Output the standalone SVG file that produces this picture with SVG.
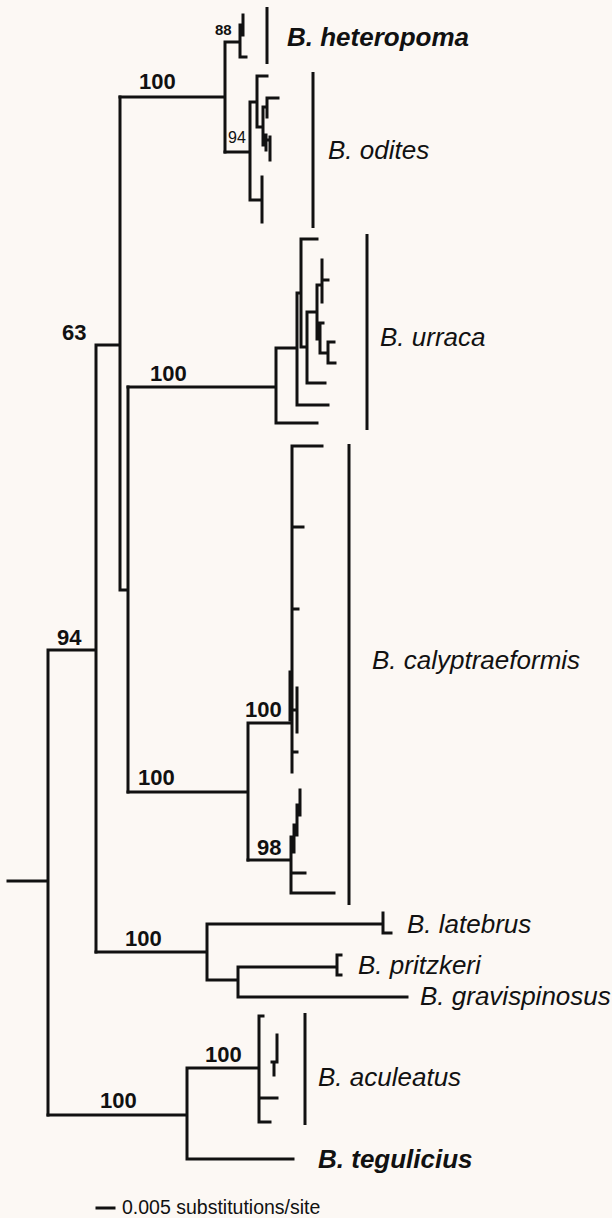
<svg xmlns="http://www.w3.org/2000/svg" width="612" height="1218" viewBox="0 0 612 1218">
<style>
.e{stroke:#111;stroke-width:3;fill:none;stroke-linecap:square}
.bar{stroke:#111;stroke-width:3;fill:none}
.sp{font-family:"Liberation Sans",Arial,sans-serif;font-style:italic;font-size:26px;fill:#111}
.spb{font-family:"Liberation Sans",Arial,sans-serif;font-style:italic;font-weight:bold;font-size:26px;fill:#111}
.bs{font-family:"Liberation Sans",Arial,sans-serif;font-weight:bold;font-size:22px;fill:#111}
.sm{font-family:"Liberation Sans",Arial,sans-serif;font-size:16px;fill:#111}
.sc{font-family:"Liberation Sans",Arial,sans-serif;font-size:19.5px;fill:#111}
</style>
<rect width="612" height="1218" fill="#fcf8f4"/>
<g id="connectors">
<path class="e" d="M8,881H48M48,650V1115M48,650H96M96,345V952M96,345H120M120,97V590M120,590H128M128,387V792"/>
<path class="e" d="M120,97H225M225,42V152M225,42H240M240,25V57M240,25H243M243,15V35M240,57H246"/>
<path class="e" d="M225,152H250M250,102V200M250,102H257M257,76V127M257,76H267M257,127H263M263,107V145M263,107H267M267,98V117M267,98H278M263,145H266M266,135V150M266,140H270M270,137V160M250,200H262M262,177V222"/>
<path class="e" d="M128,387H276M276,348V423M276,423H317M276,348H297M297,293V405M297,405H328M297,293H301M301,239V347M301,239H317M301,347H307M307,312V383M307,383H325M307,312H317M317,285V339M317,285H322M322,260V302M322,280H328M317,339H320M320,323V353M320,323H323M320,353H328M328,342V363M328,342H334M328,363H335"/>
<path class="e" d="M128,792H248M248,723V860M248,723H292M292,446V772M292,446H322M292,527H303M292,609H298M292,752H297M297,688V732M292,710H297"/>
<path class="e" d="M290,672V720M248,860H291M291,837V893M291,893H334M291,873H305M291,852H294M294,825V852M294,835H297M297,805V835M297,815H300M300,790V815"/>
<path class="e" d="M96,952H207M207,924V980M207,924H383M383,913V933M383,933H391M207,980H238M238,967V997M238,967H337M337,955V975M337,955H341M337,975H341M238,997H407"/>
<path class="e" d="M48,1115H187M187,1068V1159M187,1068H259M259,1016V1122M259,1016H263M259,1122H270M259,1098H277M277,1035V1062M272,1062H277M274,1062V1075M187,1159H293"/>
<path class="bar" d="M267,7V64M313,72V228M367,234V430M349,444V905M305,1013V1125"/>
<path class="e" d="M97,1208H114"/>
</g>
<g id="labels">
<text class="bs" x="139" y="89">100</text>
<text x="215" y="35" style="font-family:'Liberation Sans',Arial,sans-serif;font-weight:bold;font-size:15px;fill:#111">88</text>
<text class="sm" x="228" y="143">94</text>
<text class="bs" x="62" y="340">63</text>
<text class="bs" x="150" y="381">100</text>
<text class="bs" x="57" y="645">94</text>
<text class="bs" x="245" y="717">100</text>
<text class="bs" x="138" y="785">100</text>
<text class="bs" x="257" y="855">98</text>
<text class="bs" x="125" y="946">100</text>
<text class="bs" x="205" y="1062">100</text>
<text class="bs" x="100" y="1108">100</text>
</g>
<g id="n_heteropoma"><text class="spb" x="287" y="46">B. heteropoma</text></g>
<g id="n_odites"><text class="sp" x="328" y="159">B. odites</text></g>
<g id="n_urraca"><text class="sp" x="380" y="346">B. urraca</text></g>
<g id="n_calyptraeformis"><text class="sp" x="372" y="669">B. calyptraeformis</text></g>
<g id="n_latebrus"><text class="sp" x="407" y="933">B. latebrus</text></g>
<g id="n_pritzkeri"><text class="sp" x="358" y="974">B. pritzkeri</text></g>
<g id="n_gravispinosus"><text class="sp" x="420" y="1005">B. gravispinosus</text></g>
<g id="n_aculeatus"><text class="sp" x="318" y="1086">B. aculeatus</text></g>
<g id="n_tegulicius"><text class="spb" x="318" y="1168">B. tegulicius</text></g>
<g id="scale"><text class="sc" x="122" y="1214">0.005 substitutions/site</text></g>
</svg>
